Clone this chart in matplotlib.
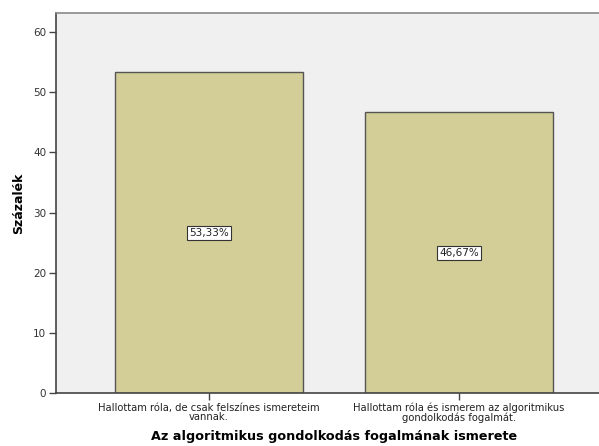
import matplotlib
matplotlib.use('Agg')
import matplotlib.pyplot as plt

# data
categories = ["Hallottam róla, de csak felszínes ismereteim\nvannak.",
              "Hallottam róla és ismerem az algoritmikus\ngondolkodás fogalmát."]
percents = [53.33, 46.67]
value_labels = ["53,33%", "46,67%"]
yticks = [0, 10, 20, 30, 40, 50, 60]

fig = plt.figure(figsize=(5.99, 4.46), dpi=100)
fig.patch.set_facecolor('white')
# axes runs past the right edge of the figure, like the original
ax = fig.add_axes([56/599, 53/446, 556/599, 380/446])
ax.set_facecolor('#f0f0f0')

x = list(range(len(categories)))
ax.bar(x, percents, width=0.752, color='#d3ce97', edgecolor='#555555', linewidth=1.0, zorder=2)

for xi, p, lab in zip(x, percents, value_labels):
    ax.text(xi, p/2, lab, ha='center', va='center', fontsize=7.5, color='#222222', zorder=3,
            bbox=dict(boxstyle='square,pad=0.2', fc='white', ec='#333333', lw=0.8))

ax.set_xlim(-0.612, 1.612)
ax.set_ylim(0, 63.2)
ax.set_yticks(yticks)
ax.set_yticklabels([str(t) for t in yticks], fontsize=7.5, color='#333333')
ax.set_xticks(x)
ax.set_xticklabels(categories, fontsize=7.2, color='#222222', linespacing=0.95)
ax.tick_params(axis='both', direction='out', length=5, width=1, color='#444444', pad=2)

for s in ['left', 'bottom']:
    ax.spines[s].set_color('#444444')
    ax.spines[s].set_linewidth(1.2)
ax.spines['top'].set_color('#888888')
ax.spines['top'].set_linewidth(1.2)
ax.spines['right'].set_visible(False)

ax.set_ylabel('Százalék', fontsize=9, fontweight='bold', labelpad=6)
ax.set_xlabel('Az algoritmikus gondolkodás fogalmának ismerete', fontsize=9.2,
              fontweight='bold', labelpad=5)

plt.savefig('out.png', dpi=100)
